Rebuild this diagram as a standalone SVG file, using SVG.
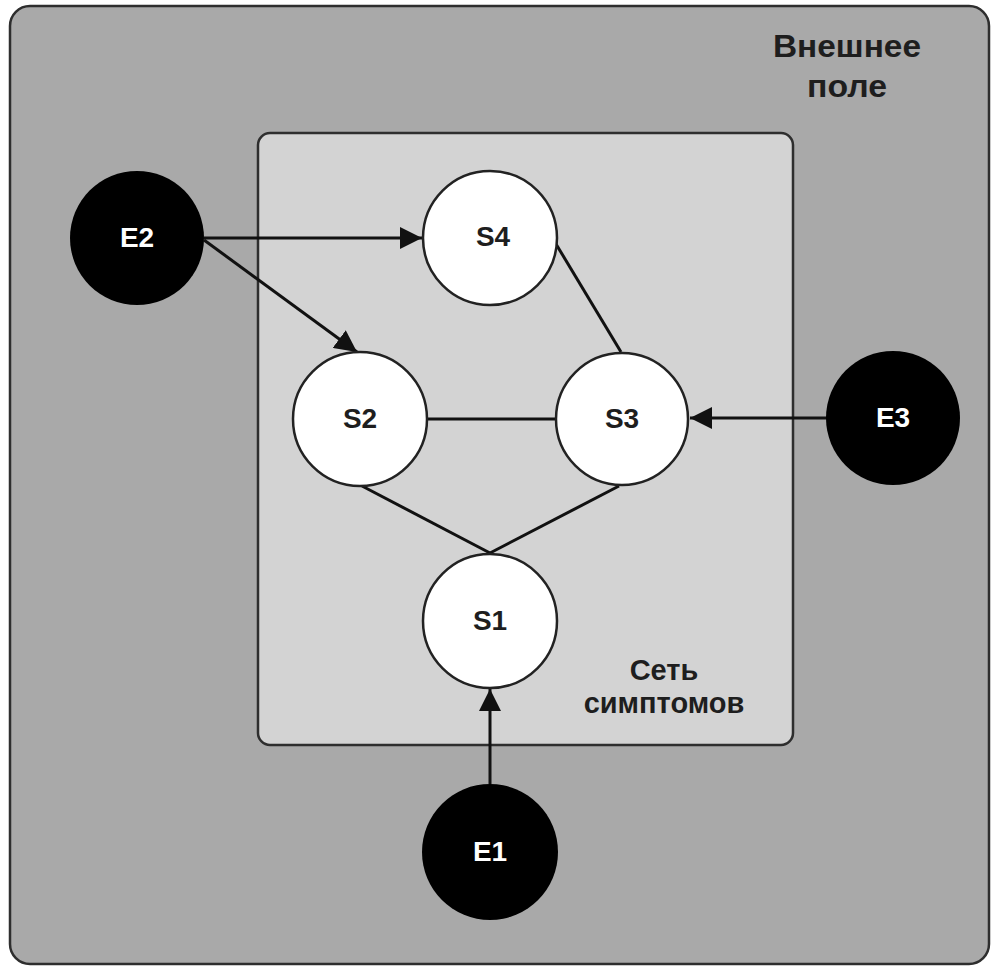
<svg xmlns="http://www.w3.org/2000/svg" width="993" height="967" viewBox="0 0 993 967">
<defs>
<style>
.frame{stroke:#2e2e2e;stroke-width:2.5}
.s{fill:#ffffff;stroke:#222;stroke-width:2.5}
.e{fill:#000000}
.lbl{font-family:"Liberation Sans",Arial,sans-serif;font-weight:bold;font-size:28px;text-anchor:middle}
.dark{fill:#1e1e1e}
.light{fill:#ffffff}
.cap{font-family:"Liberation Sans",Arial,sans-serif;font-weight:bold;fill:#1e1e1e;text-anchor:middle}
.con{stroke:#111;stroke-width:3;fill:none}
</style>
<marker id="arr" markerWidth="22" markerHeight="22" refX="22" refY="11" orient="auto" markerUnits="userSpaceOnUse" viewBox="0 0 22 22">
<path d="M0,0 L22,11 L0,22 Z" fill="#111"/>
</marker>
</defs>
<rect width="993" height="967" fill="#ffffff"/>
<g id="outer-field">
<rect class="frame" x="10" y="6" width="979" height="958" rx="20" fill="#a9a9a9"/>
<text class="cap" font-size="32" x="847" y="57" textLength="148" lengthAdjust="spacingAndGlyphs">Внешнее</text>
<text class="cap" font-size="32" x="847" y="97" textLength="80" lengthAdjust="spacingAndGlyphs">поле</text>
</g>
<g id="symptom-network">
<rect class="frame" x="258" y="133" width="535" height="612" rx="12" fill="#d3d3d3"/>
<text class="cap" font-size="29" x="664" y="680">Сеть</text>
<text class="cap" font-size="29" x="664" y="713">симптомов</text>
</g>
<g id="connectors">
<line class="con" x1="204" y1="238" x2="422" y2="238" marker-end="url(#arr)"/>
<line class="con" x1="204" y1="240" x2="357" y2="352" marker-end="url(#arr)"/>
<line class="con" x1="556" y1="244" x2="621" y2="352"/>
<line class="con" x1="427" y1="419" x2="556" y2="419"/>
<line class="con" x1="362" y1="486" x2="490" y2="553"/>
<line class="con" x1="619" y1="486" x2="490" y2="553"/>
<line class="con" x1="827" y1="418" x2="690" y2="418" marker-end="url(#arr)"/>
<line class="con" x1="490" y1="784" x2="490" y2="689" marker-end="url(#arr)"/>
</g>
<g id="E2"><circle class="e" cx="137" cy="238" r="67"/><text class="lbl light" x="137" y="247">E2</text></g>
<g id="S4"><circle class="s" cx="490" cy="238" r="67"/><text class="lbl dark" x="493" y="246">S4</text></g>
<g id="S2"><circle class="s" cx="360" cy="419" r="67"/><text class="lbl dark" x="360" y="428">S2</text></g>
<g id="S3"><circle class="s" cx="622" cy="419" r="66"/><text class="lbl dark" x="622" y="428">S3</text></g>
<g id="E3"><circle class="e" cx="893" cy="418" r="67"/><text class="lbl light" x="893" y="427">E3</text></g>
<g id="S1"><circle class="s" cx="490" cy="621" r="67"/><text class="lbl dark" x="490" y="630">S1</text></g>
<g id="E1"><circle class="e" cx="490" cy="852" r="68"/><text class="lbl light" x="490" y="861">E1</text></g>
</svg>
